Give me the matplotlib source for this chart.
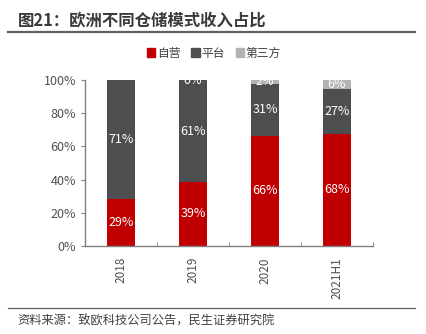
import matplotlib
matplotlib.use("Agg")
import matplotlib.pyplot as plt
from matplotlib.lines import Line2D
from matplotlib.ticker import FixedLocator, PercentFormatter
import numpy as np

plt.rcParams['font.family'] = ['Noto Sans CJK SC', 'DejaVu Sans']

categories = ["2018", "2019", "2020", "2021H1"]
self_run = [28.6, 38.8, 66.3, 67.6]
platform = [71.4, 60.9, 31.3, 26.8]
third_party = [np.nan, 0.3, 2.4, 5.6]
series_names = ["自营", "平台", "第三方"]
colors = ["#C00000", "#4D4E50", "#B3B3B3"]

fig = plt.figure(figsize=(4.27, 3.34), dpi=100)
ax = fig.add_axes([85/427, 1-246/334, 288/427, 166/334])

x = np.arange(len(categories))
bottom = np.zeros(len(categories))
for vals, name, col in zip([self_run, platform, third_party], series_names, colors):
    v = np.array(vals, dtype=float)
    ax.bar(x, np.nan_to_num(v), width=0.4, bottom=bottom, color=col, label=name)
    for xi, b, val in zip(x, bottom, v):
        if np.isnan(val):
            continue
        t = ax.text(xi, b + val/2, f"{val:.0f}%", ha="center", va="center",
                    color="white", fontsize=9, fontweight="light")
        t.set_clip_on(True)
    bottom += np.nan_to_num(v)

ax.set_xlim(-0.5, len(categories) - 0.5)
ax.set_ylim(0, 100)
ax.yaxis.set_major_locator(FixedLocator([0, 20, 40, 60, 80, 100]))
ax.yaxis.set_major_formatter(PercentFormatter(decimals=0))
ax.set_xticks(x)
ax.set_xticklabels(categories, rotation=90)
ax.xaxis.set_minor_locator(FixedLocator(np.arange(-0.5, len(categories), 1.0)))
ax.tick_params(axis='x', which='major', length=0, pad=8, labelsize=8.5, labelcolor="#505050")
ax.tick_params(axis='x', which='minor', length=3, direction='in', color="#808080")
ax.tick_params(axis='y', length=3, color="#808080", labelsize=9, labelcolor="#505050")
for lbl in ax.get_yticklabels() + ax.get_xticklabels():
    lbl.set_fontweight("light")
for s in ["top", "right"]:
    ax.spines[s].set_visible(False)
for s in ["left", "bottom"]:
    ax.spines[s].set_color("#808080")
    ax.spines[s].set_linewidth(1.0)

handles = [plt.Rectangle((0, 0), 1, 1, color=c) for c in colors]
leg = fig.legend(handles, series_names, loc="center", bbox_to_anchor=(214/427, 1-53/334),
                 ncol=3, frameon=False, fontsize=8.5, handlelength=0.7, handleheight=0.7,
                 handletextpad=0.15, columnspacing=0.9)
for t in leg.get_texts():
    t.set_color("#404040")

fig.text(18/427, 1-20/334, "图21：欧洲不同仓储模式收入占比", fontsize=11.8, fontweight="bold",
         color="#3A3A3A", ha="left", va="center")
fig.add_artist(Line2D([8/427, 415/427], [1-32/334, 1-32/334], color="#606060", linewidth=1.6))
fig.add_artist(Line2D([8/427, 415/427], [1-308/334, 1-308/334], color="#606060", linewidth=0.9))
fig.text(17/427, 1-321/334, "资料来源：致欧科技公司公告，民生证券研究院", fontsize=8.8,
         color="#404040", ha="left", va="center")

fig.savefig("out.png", dpi=100)
